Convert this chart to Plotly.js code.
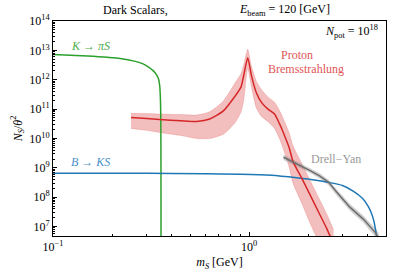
<!DOCTYPE html>
<html>
<head>
<meta charset="utf-8">
<script src="https://cdn.plot.ly/plotly-3.0.1.min.js"></script>
<style>html,body{margin:0;padding:0;background:#fff;}#chart{width:407px;height:271px;}</style>
</head>
<body>
<div id="chart"></div>
<script>
// K -> pi S
const kMass = [0.1, 0.15, 0.19, 0.22, 0.26, 0.29, 0.31, 0.325, 0.337, 0.345, 0.35, 0.353, 0.355, 0.3556, 0.3558];
const kN    = [7.2e12, 6.4e12, 5.8e12, 5.3e12, 4.3e12, 3.4e12, 2.6e12, 2.0e12, 1.5e12, 1.1e12, 6.5e11, 2.5e11, 3e10, 1e8, 1e5];
// B -> K S
const bMass = [0.1, 0.3, 0.6, 0.9, 1.3, 1.75, 2.2, 2.55, 3.0, 3.4, 3.8, 4.05, 4.2, 4.33, 4.42, 4.48, 4.5];
const bN    = [6.6e8, 6.5e8, 6.3e8, 6.1e8, 5.6e8, 4.6e8, 3.8e8, 3.2e8, 2.5e8, 1.6e8, 9.0e7, 5.0e7, 3.0e7, 1.6e7, 8e6, 4.5e6, 3e6];
// Proton bremsstrahlung
const pbMass  = [0.25, 0.30, 0.35, 0.45, 0.54, 0.63, 0.74, 0.85, 0.91, 0.94, 0.985, 1.03, 1.09, 1.16, 1.25, 1.35, 1.43, 1.49, 1.6, 1.68, 1.86, 2.05, 2.26, 2.49, 2.7];
const pbN     = [5.2e10, 4.8e10, 4.4e10, 4.0e10, 3.8e10, 4.6e10, 8.7e10, 2.8e11, 5.6e11, 1.4e12, 5.6e12, 1.35e12, 3.6e11, 1.66e11, 1.0e11, 6.8e10, 3.2e10, 1.7e10, 5.0e9, 1.6e9, 4.4e8, 1.2e8, 3.2e7, 8.7e6, 2.5e6];
const pbUpper = [7.2e10, 7.1e10, 6.8e10, 6.5e10, 6.3e10, 8.1e10, 1.9e11, 7.9e11, 1.6e12, 3.2e12, 1.1e13, 2.8e12, 8.9e11, 4.5e11, 2.6e11, 1.7e11, 8.9e10, 5.0e10, 1.6e10, 5.4e9, 1.4e9, 3.7e8, 1.0e8, 2.7e7, 7.9e6];
const pbLower = [2.2e10, 1.9e10, 1.6e10, 1.26e10, 1.0e10, 1.0e10, 1.4e10, 3.5e10, 7.9e10, 2.0e11, 2.5e12, 5.6e11, 1.1e11, 5.6e10, 3.7e10, 2.2e10, 1.0e10, 4.8e9, 1.1e9, 2.9e8, 6.2e7, 1.3e7, 3.2e6, 7.8e5, 2e5];
// Drell-Yan
const dyMass  = [1.5, 1.62, 2.05, 2.3, 2.55, 2.8, 3.27, 3.83, 4.39, 4.6];
const dyN     = [2.3e9, 1.8e9, 8.1e8, 5.2e8, 3.2e8, 1.5e8, 4.6e7, 1.8e7, 6.5e6, 4.0e6];
const dyUpper = [2.75e9, 2.1e9, 9.5e8, 6.3e8, 3.8e8, 1.8e8, 5.8e7, 2.3e7, 8.7e6, 5.6e6];
const dyLower = [1.9e9, 1.5e9, 6.9e8, 4.4e8, 2.6e8, 1.2e8, 3.6e7, 1.4e7, 4.8e6, 2.8e6];
// ticks
const yTickVals = [1e7, 1e8, 1e9, 1e10, 1e11, 1e12, 1e13, 1e14];
const yTickText = ['10<sup>7</sup>','10<sup>8</sup>','10<sup>9</sup>','10<sup>10</sup>','10<sup>11</sup>','10<sup>12</sup>','10<sup>13</sup>','10<sup>14</sup>'];
const xTickVals = [0.1, 1];
const xTickText = ['10<sup>−1</sup>','10<sup>0</sup>'];

const FONT = 'Liberation Serif, DejaVu Serif, serif';

const traces = [
  {x: pbMass, y: pbLower, mode:'lines', line:{width:0.6, color:'rgba(214,39,40,0.3)', shape:'spline', smoothing:0.6}, hoverinfo:'skip'},
  {x: pbMass, y: pbUpper, mode:'lines', fill:'tonexty', fillcolor:'rgba(214,39,40,0.3)', line:{width:0.6, color:'rgba(214,39,40,0.3)', shape:'spline', smoothing:0.6}, hoverinfo:'skip'},
  {x: dyMass, y: dyLower, mode:'lines', line:{width:0.6, color:'rgba(127,127,127,0.3)'}, hoverinfo:'skip'},
  {x: dyMass, y: dyUpper, mode:'lines', fill:'tonexty', fillcolor:'rgba(127,127,127,0.35)', line:{width:0.6, color:'rgba(127,127,127,0.3)'}, hoverinfo:'skip'},
  {x: kMass, y: kN, mode:'lines', line:{color:'#2ca02c', width:1.5, shape:'spline', smoothing:0.8}},
  {x: bMass, y: bN, mode:'lines', line:{color:'#1f77b4', width:1.5, shape:'spline', smoothing:0.8}},
  {x: pbMass, y: pbN, mode:'lines', line:{color:'#d62728', width:1.5, shape:'spline', smoothing:0.6}},
  {x: dyMass, y: dyN, mode:'lines', line:{color:'#6e6e6e', width:1.5}}
];

const ann = (x, y, text, color, xa, size) => ({xref:'paper', yref:'paper', x:x, y:y, text:text, showarrow:false, xanchor:xa||'center', yanchor:'middle', font:{family:FONT, size:size||12, color:color}});

const layout = {
  width: 407, height: 271,
  margin: {l:53, r:21, t:21, b:35},
  paper_bgcolor:'#fff', plot_bgcolor:'#fff',
  showlegend:false,
  font:{family:FONT, size:12, color:'#000'},
  xaxis:{type:'log', range:[-1, Math.log10(5)], showgrid:false, zeroline:false,
    showline:true, linecolor:'#000', linewidth:1, mirror:true,
    ticks:'inside', ticklen:4, tickcolor:'#000', tickvals:xTickVals, ticktext:xTickText,
    tickfont:{family:FONT, size:12},
    minor:{ticks:'inside', ticklen:2, tickcolor:'#000', dtick:'D1', showgrid:false},
    title:{text:'<i>m<sub>S</sub></i> [GeV]', font:{family:FONT, size:12}, standoff:4}},
  yaxis:{type:'log', range:[6.68, 14], showgrid:false, zeroline:false,
    showline:true, linecolor:'#000', linewidth:1, mirror:true,
    ticks:'inside', ticklen:4, tickcolor:'#000', tickvals:yTickVals, ticktext:yTickText,
    tickfont:{family:FONT, size:12},
    minor:{ticks:'inside', ticklen:2, tickcolor:'#000', dtick:'D1', showgrid:false},
    title:{text:'<i>N<sub>S</sub></i>/<i>θ</i><sup>2</sup>', font:{family:FONT, size:12}, standoff:4}},
  annotations:[
    ann(0.249, 1.051, 'Dark Scalars,', '#000'),
    ann(0.695, 1.051, '<i>E</i><sub>beam</sub> = 120 [GeV]', '#000'),
    ann(0.982, 0.953, '<i>N</i><sub>pot</sub> = 10<sup>18</sup>', '#000', 'right'),
    ann(0.048, 0.884, '<i>K</i> → <i>πS</i>', '#4cae4c', 'left'),
    ann(0.048, 0.344, '<i>B</i> → <i>KS</i>', '#4a90c8', 'left'),
    ann(0.732, 0.842, 'Proton', '#e05555'),
    ann(0.76, 0.777, 'Bremsstrahlung', '#e05555'),
    ann(0.851, 0.358, 'Drell−Yan', '#999999')
  ]
};

Plotly.newPlot('chart', traces, layout, {displayModeBar:false, staticPlot:true});
</script>
</body>
</html>
